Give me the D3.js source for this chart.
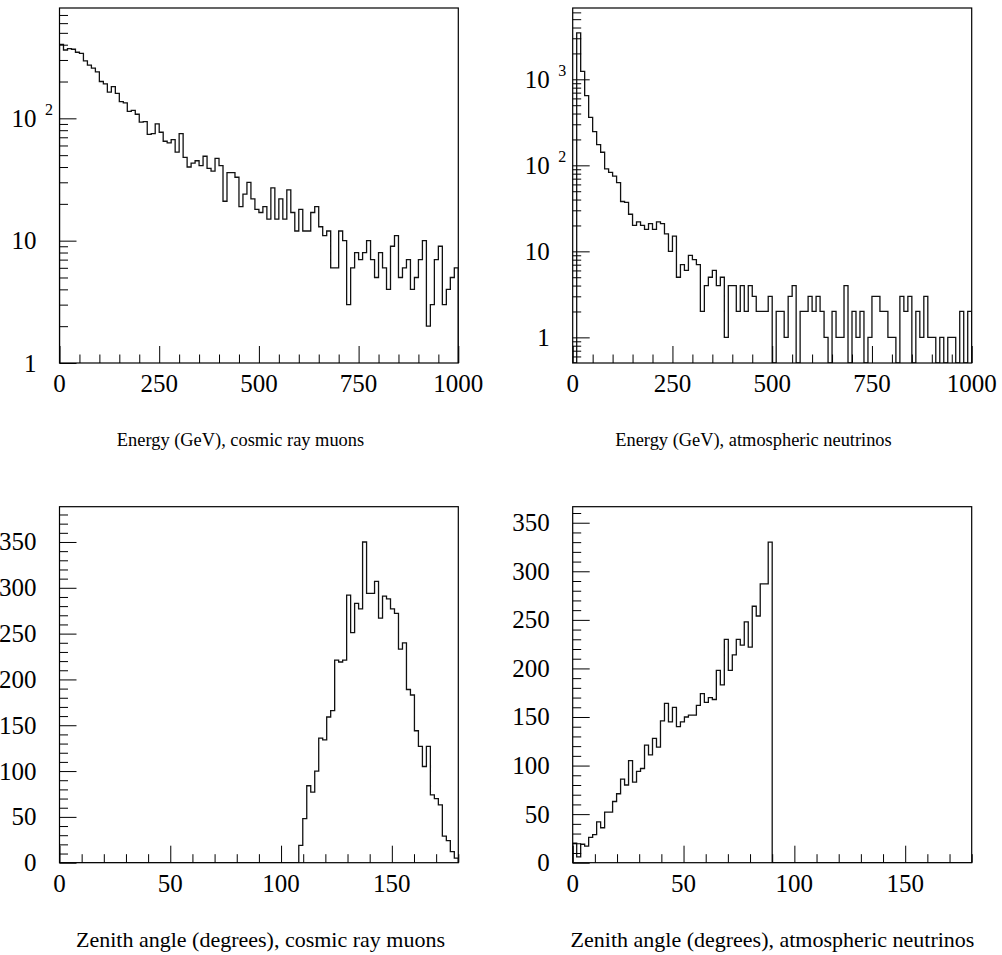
<!DOCTYPE html>
<html><head><meta charset="utf-8">
<script src="https://cdn.jsdelivr.net/npm/d3@7"></script>
<style>
html,body{margin:0;padding:0;background:#fff;}
svg{display:block;}
text{font-family:"Liberation Serif","Times New Roman",serif;fill:#000;}
</style></head>
<body>
<svg id="c" width="1002" height="955"></svg>
<script>
// ---------- DATA (bin contents, 100 bins per histogram) ----------
// Energy of cosmic ray muons, 0-1000 GeV, 10 GeV bins
const muonEnergy = [
 403,362,372,367,347,340,295,272,257,240,
 200,191,164,182,160,137,134,114,116,108,
 93,94,74,75,90,77,65,63,67,53,
 75,48,40,43,45,41,49,39,37,47,
 41,21,36,36,33,19,24,30,22,18,
 17,19,15,27,15,22,15,26,17,12,
 18,12,12,17,19,13,11,12,6,6,
 12,10,3,6,8,7,8,10,7,5,
 8,6,4,9,11,5,6,7,4,5,
 7,10,2,3,7,9,3,4,5,6];
// Energy of atmospheric neutrinos, 0-1000 GeV, 10 GeV bins
const nuEnergy = [
 0,3458,1239,646,361,246,174,142,91,83,
 75,63,38,37,27,20,22,20,18,21,
 18,22,21,16,10,15,5,7,6,9,
 8,7,2,4,5,6,4,5,1,4,
 4,2,4,2,4,3,2,2,2,3,
 0,2,2,1,3,4,0,2,2,3,
 2,3,2,1,0,2,1,1,4,0,
 2,1,2,0,1,3,3,2,2,1,
 1,0,3,2,3,0,2,1,3,1,
 1,0,1,0,1,1,0,2,0,2];
// Zenith angle of cosmic ray muons, 0-180 deg, 1.8 deg bins
const muonZenith = [
 0,0,0,0,0,0,0,0,0,0,
 0,0,0,0,0,0,0,0,0,0,
 0,0,0,0,0,0,0,0,0,0,
 0,0,0,0,0,0,0,0,0,0,
 0,0,0,0,0,0,0,0,0,0,
 0,0,0,0,0,0,0,0,0,0,
 19,48,84,77,100,136,134,159,166,221,
 219,221,292,251,283,277,350,294,294,307,
 267,291,288,277,272,233,240,189,183,144,
 127,105,127,74,70,63,29,24,12,5];
// Zenith angle of atmospheric neutrinos, 0-180 deg, 1.8 deg bins
const nuZenith = [
 20,6,19,17,26,29,42,36,52,52,
 63,71,86,80,105,83,94,97,121,111,
 128,119,146,164,145,160,140,145,150,152,
 152,162,174,165,170,168,198,183,230,198,
 214,230,224,248,222,264,254,287,287,330,
 0,0,0,0,0,0,0,0,0,0,
 0,0,0,0,0,0,0,0,0,0,
 0,0,0,0,0,0,0,0,0,0,
 0,0,0,0,0,0,0,0,0,0,
 0,0,0,0,0,0,0,0,0,0];

const energyTicks = [0,250,500,750,1000];
const zenithTicks = [0,50,100,150];
const titles = ["Energy (GeV), cosmic ray muons","Energy (GeV), atmospheric neutrinos",
                "Zenith angle (degrees), cosmic ray muons","Zenith angle (degrees), atmospheric neutrinos"];

// ---------- LAYOUT ----------
const svg = d3.select("#c");
const FS = 25, SUP = 15, MAJ = 17, MIN = 8.5;

const panels = [
 {data:muonEnergy, xmax:1000, xMaj:energyTicks, xMinStep:50, log:true, ydom:[1, Math.pow(10,2.902)],
  x0:59.5, x1:458.3, y0:8, y1:363, title:titles[0], tx:240.5, ty:446, tfs:18.4},
 {data:nuEnergy, xmax:1000, xMaj:energyTicks, xMinStep:50, log:true, ydom:[Math.pow(10,-0.298), Math.pow(10,3.829)],
  x0:572.7, x1:971.7, y0:8, y1:363, title:titles[1], tx:753.5, ty:446, tfs:18.4},
 {data:muonZenith, xmax:180, xMaj:zenithTicks, xMinStep:10, log:false, ydom:[0,388.5], yMajStep:50, yMinStep:10,
  x0:59.5, x1:458.3, y0:506.7, y1:862.7, title:titles[2], tx:260.5, ty:947, tfs:22},
 {data:nuZenith, xmax:180, xMaj:zenithTicks, xMinStep:10, log:false, ydom:[0,366.5], yMajStep:50, yMinStep:10,
  x0:572.7, x1:971.7, y0:506.7, y1:862.7, title:titles[3], tx:772.5, ty:947, tfs:22}
];

panels.forEach((p,pi)=>{
  const g = svg.append("g");
  const x = d3.scaleLinear().domain([0,p.xmax]).range([p.x0,p.x1]);
  const y = (p.log ? d3.scaleLog() : d3.scaleLinear()).domain(p.ydom).range([p.y1,p.y0]);
  const n = p.data.length, w = p.xmax/n;
  const clipId = "clip"+pi;
  g.append("clipPath").attr("id",clipId).append("rect")
    .attr("x",p.x0).attr("y",p.y0).attr("width",p.x1-p.x0).attr("height",p.y1-p.y0);

  // histogram outline
  const pts = [[0,p.ydom[0]]];
  p.data.forEach((v,i)=>{
    const vv = Math.max(v,p.ydom[0]);
    pts.push([i*w,vv]); pts.push([(i+1)*w,vv]);
  });
  pts.push([p.xmax,p.ydom[0]]);
  g.append("path").attr("clip-path",`url(#${clipId})`)
    .attr("d", d3.line().x(d=>x(d[0])).y(d=>y(Math.min(Math.max(d[1],p.ydom[0]),p.ydom[1])))(pts))
    .attr("fill","none").attr("stroke","#111").attr("stroke-width",1.3);

  // x axis ticks (inward)
  const xMinor = d3.range(0,p.xmax+1e-9,p.xMinStep).filter(v=>!p.xMaj.includes(v));
  const xa = g.append("g").attr("transform",`translate(0,${p.y1})`);
  xa.call(d3.axisBottom(x).tickValues(p.xMaj).tickSize(-MAJ).tickSizeOuter(0).tickPadding(0).tickFormat(""));
  xa.append("g").call(d3.axisBottom(x).tickValues(xMinor).tickSize(-MIN).tickSizeOuter(0).tickFormat(""));
  xa.selectAll(".domain").remove();
  xa.selectAll("line").attr("stroke","#000").attr("stroke-width",1);
  g.selectAll(null).data(p.xMaj).enter().append("text")
    .attr("x",d=>x(d)).attr("y",p.y1+29).attr("text-anchor","middle").attr("font-size",FS).text(d=>d);

  // y axis
  let yMajor, yMinor;
  if (p.log){
    yMajor=[]; yMinor=[];
    for (let e=-1;e<=4;e++){
      for (let k=1;k<=9;k++){
        const v=k*Math.pow(10,e);
        if (v>=p.ydom[0]*0.999 && v<=p.ydom[1]) (k===1?yMajor:yMinor).push(v);
      }
    }
  } else {
    yMajor = d3.range(0,p.ydom[1],p.yMajStep);
    yMinor = d3.range(0,p.ydom[1],p.yMinStep).filter(v=>v%p.yMajStep!==0);
  }
  const ya = g.append("g").attr("transform",`translate(${p.x0},0)`);
  ya.call(d3.axisLeft(y).tickValues(yMajor).tickSize(-MAJ).tickSizeOuter(0).tickFormat(""));
  ya.append("g").call(d3.axisLeft(y).tickValues(yMinor).tickSize(-MIN).tickSizeOuter(0).tickFormat(""));
  ya.selectAll(".domain").remove();
  ya.selectAll("line").attr("stroke","#000").attr("stroke-width",1);

  yMajor.forEach(v=>{
    const e = Math.round(Math.log10(v));
    const t = g.append("text").attr("y",y(v)).attr("dy","0.34em").attr("font-size",FS);
    if (p.log && e>=2){
      t.attr("x",p.x0-23).attr("text-anchor","end").text("10");
      g.append("text").attr("x",p.x0-14.5).attr("y",y(v)-3.5).attr("font-size",SUP+1).text(e);
    } else {
      t.attr("x",p.x0-23).attr("text-anchor","end").text(p.log? (e===0?"1":"10") : v);
    }
  });

  // frame
  g.append("rect").attr("x",p.x0).attr("y",p.y0).attr("width",p.x1-p.x0).attr("height",p.y1-p.y0)
    .attr("fill","none").attr("stroke","#000").attr("stroke-width",1.2);

  // title
  g.append("text").attr("x",p.tx).attr("y",p.ty).attr("text-anchor","middle").attr("font-size",p.tfs).text(p.title);
});
</script>
</body></html>
